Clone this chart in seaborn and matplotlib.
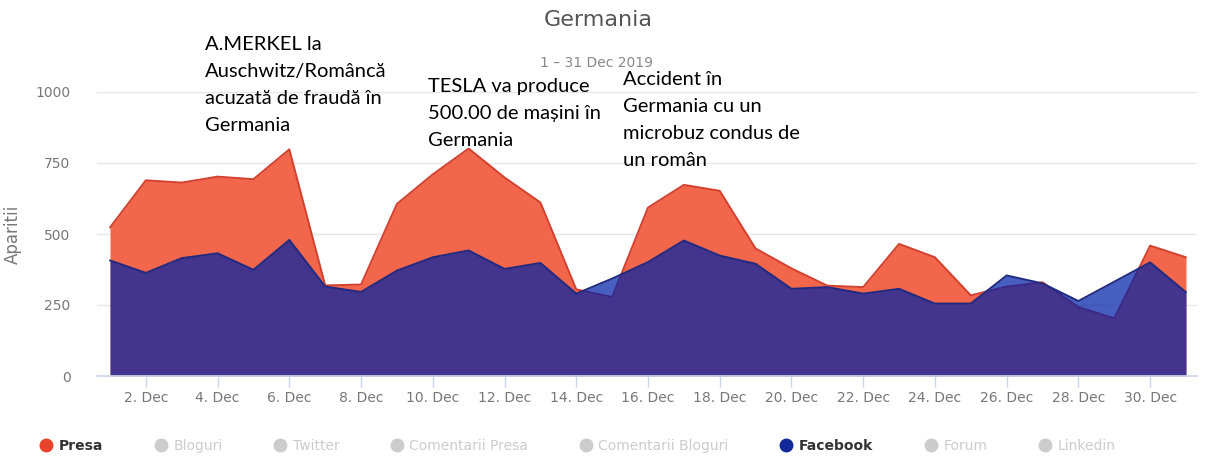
import matplotlib
matplotlib.use("Agg")
import matplotlib.pyplot as plt
from matplotlib.lines import Line2D
import seaborn as sns
import pandas as pd

# Data (appearances per day, December 2019)
days = list(range(1, 32))
presa = [523, 689, 681, 702, 693, 798, 319, 322, 606, 710, 801, 699, 611, 305, 278, 593,
         673, 652, 449, 379, 318, 313, 465, 418, 284, 315, 330, 243, 203, 459, 418]
facebook = [407, 363, 415, 432, 374, 479, 315, 296, 371, 418, 442, 377, 398, 290, 343, 401,
            477, 424, 395, 307, 313, 290, 307, 255, 255, 354, 326, 264, 332, 400, 295]
tick_days = list(range(2, 31, 2))
tick_labels = [f"{d}. Dec" for d in tick_days]
y_ticks = [0, 250, 500, 750, 1000]

legend_names = ['Presa', 'Bloguri', 'Twitter', 'Comentarii Presa', 'Comentarii Bloguri',
                'Facebook', 'Forum', 'Linkedin']
legend_active = {'Presa': '#e8412c', 'Facebook': '#13289a'}

notes = [
    ['A.MERKEL la', 'Auschwitz/Româncă', 'acuzată de fraudă în', 'Germania'],
    ['TESLA va produce', '500.00 de mașini în', 'Germania'],
    ['Accident în', 'Germania cu un', 'microbuz condus de', 'un român'],
]
note_pos = [(205, 50), (428, 92), (623, 85)]  # left x, first baseline y (pixels)

df = pd.DataFrame({'day': days, 'Presa': presa, 'Facebook': facebook})

sns.set_theme(style="white")
plt.rcParams['font.family'] = ['DejaVu Sans']

W, H = 1213, 458
fig = plt.figure(figsize=(W / 100, H / 100), dpi=100)
ax = fig.add_axes([97 / W, 1 - 376 / H, 1100 / W, 284 / H])

# areas (Presa first, Facebook semi-transparent on top)
ax.fill_between(df['day'], df['Presa'], color='#f2674c', lw=0, zorder=2)
sns.lineplot(data=df, x='day', y='Presa', ax=ax, color='#d2412f', lw=1.4, zorder=3)
ax.fill_between(df['day'], df['Facebook'], color=(0, 33 / 255, 168 / 255), alpha=0.72,
                lw=0, zorder=4)
sns.lineplot(data=df, x='day', y='Facebook', ax=ax, color='#1f2a80', lw=1.4, zorder=5)

ax.set_xlim(0.638, 31.307)
ax.set_ylim(0, 1000)
ax.set_yticks(y_ticks)
ax.set_yticklabels([str(v) for v in y_ticks])
ax.set_xticks(tick_days)
ax.set_xticklabels(tick_labels)
ax.yaxis.grid(True, color='#e6e6e6', lw=1)
ax.set_axisbelow(True)
for s in ['top', 'right', 'left']:
    ax.spines[s].set_visible(False)
ax.spines['bottom'].set_color('#ccd6eb')
ax.spines['bottom'].set_zorder(6)
ax.tick_params(axis='y', length=0, pad=19, labelsize=10, labelcolor='#777777')
ax.tick_params(axis='x', length=8, width=1, color='#ccd6eb', pad=3, labelsize=10,
               labelcolor='#777777', bottom=True)
ax.set_xlabel('')
ax.set_ylabel('Aparitii', fontsize=12, color='#777777', labelpad=10)

fig.text(598 / W, 1 - 20 / H, 'Germania', ha='center', va='center', fontsize=16,
         color='#555555')
fig.text(596 / W, 1 - 63 / H, '1 – 31 Dec 2019', ha='center', va='center', fontsize=10,
         color='#888888')

for lines, (x0, y0) in zip(notes, note_pos):
    for i, line in enumerate(lines):
        fig.text(x0 / W, 1 - (y0 + 27 * i) / H, line, ha='left', va='baseline',
                 fontsize=14.5, color='black', family=['Lato', 'DejaVu Sans'])

handles = [Line2D([], [], ls='', marker='o', markersize=9,
                  color=legend_active.get(n, '#cccccc')) for n in legend_names]
leg = fig.legend(handles, legend_names, loc='center', bbox_to_anchor=(578 / W, 1 - 446 / H),
                 ncol=8, frameon=False, handlelength=0.8, handletextpad=0.5,
                 columnspacing=3.75, fontsize=10)
for txt, n in zip(leg.get_texts(), legend_names):
    if n in legend_active:
        txt.set_color('#333333')
        txt.set_fontweight('bold')
    else:
        txt.set_color('#cccccc')

fig.savefig('out.png', dpi=100)
